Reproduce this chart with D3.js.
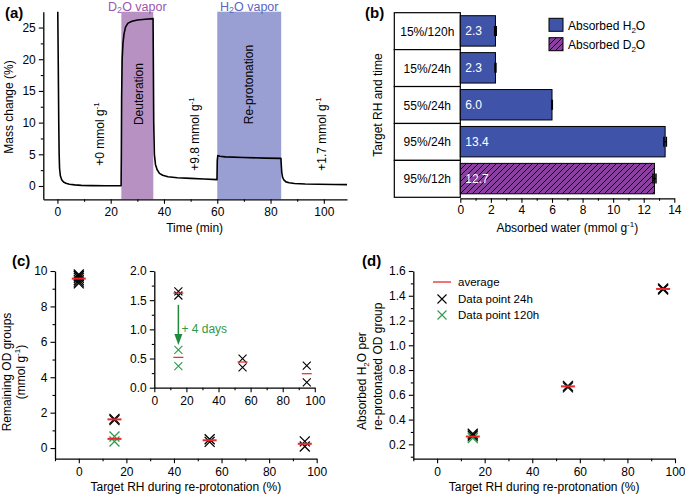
<!DOCTYPE html>
<html>
<head>
<meta charset="utf-8">
<script src="https://cdn.jsdelivr.net/npm/d3@7"></script>
<style>
  html, body { margin: 0; padding: 0; background: #fff; }
  svg { display: block; font-family: "Liberation Sans", Arial, sans-serif; }
</style>
</head>
<body>
<script>
// ---------------- DATA ----------------
// Panel (a): mass change vs time
const timeMin = [0.1, 0.3, 0.5, 0.65, 0.8, 1.1, 1.6, 2.3, 3.2, 4.5, 6.5, 9, 13, 18, 23.9,
  24.0, 24.1, 24.3, 24.6, 25.0, 25.6, 26.5, 28, 30, 33, 35.9,
  36.0, 36.15, 36.4, 36.8, 37.4, 38.3, 39.5, 41.5, 45, 50, 55, 59.9,
  60.0, 60.2, 61, 63, 70, 78, 83.9,
  84.0, 84.2, 84.5, 85, 85.8, 87, 89, 93, 98, 104, 108.7];
const massPct = [29, 20, 10, 5, 2.8, 1.6, 1.0, 0.62, 0.42, 0.28, 0.17, 0.1, 0.06, 0.04, 0.03,
  5, 14, 20, 22.5, 24, 25.1, 25.7, 26.0, 26.2, 26.3, 26.4,
  20, 10, 5, 3.4, 2.6, 2.0, 1.7, 1.45, 1.3, 1.2, 1.1, 1.0,
  4.0, 4.8, 4.7, 4.6, 4.5, 4.4, 4.35,
  3.5, 2.2, 1.4, 0.95, 0.65, 0.5, 0.4, 0.32, 0.27, 0.24, 0.22];
const d2oWindow = [24, 36];
const h2oWindow = [60, 84];
const aXTicks = [0, 20, 40, 60, 80, 100];
const aYTicks = [0, 5, 10, 15, 20, 25];

// Panel (b): absorbed water
const bCats = ["15%/120h", "15%/24h", "55%/24h", "95%/24h", "95%/12h"];
const bVals = [2.3, 2.3, 6.0, 13.4, 12.7];
const bErr = [0.05, 0.03, 0.02, 0.08, 0.1];
const bType = ["H2O", "H2O", "H2O", "H2O", "D2O"];
const bXTicks = [0, 2, 4, 6, 8, 10, 12, 14];

// Panel (c): remaining OD groups
const c24RH = [0, 0, 0, 0, 0, 0, 15, 15, 55, 55, 95, 95];
const c24Val = [9.8, 9.72, 9.62, 9.5, 9.4, 9.3, 1.65, 1.58, 0.5, 0.35, 0.38, 0.09];
const c120RH = [15, 15];
const c120Val = [0.65, 0.37];
const cAvgRH = [0, 15, 15, 55, 95];
const cAvgVal = [9.57, 1.62, 0.52, 0.44, 0.24];
const cXTicks = [0, 20, 40, 60, 80, 100];
const cYTicks = [0, 2, 4, 6, 8, 10];
const cInsetYTicks = [0, 0.5, 1.0, 1.5, 2.0];

// Panel (d): absorbed H2O per re-protonated OD group
const d24RH = [15, 15, 55, 55, 95, 95];
const d24Val = [0.285, 0.272, 0.672, 0.66, 1.458, 1.45];
const d120RH = [15, 15];
const d120Val = [0.25, 0.262];
const dAvgRH = [15, 55, 95];
const dAvgVal = [0.263, 0.668, 1.455];
const dYTicks = [0.2, 0.4, 0.6, 0.8, 1.0, 1.2, 1.4, 1.6];

// ---------------- STYLE ----------------
const C_D2O_SHADE = "#b891c3";
const C_H2O_SHADE = "#9a9fd3";
const C_D2O_TEXT = "#9a55b2";
const C_H2O_TEXT = "#5b64c6";
const C_BAR = "#3f54a8";
const C_HATCH = "#8b3fa1";
const C_RED = "#e8282a";
const C_GREEN = "#2e9a4c";
const C_ARROW = "#1f8a3c";
const FS = 12;

const svg = d3.select("body").append("svg").attr("width", 685).attr("height", 499);
svg.append("rect").attr("width", 685).attr("height", 499).attr("fill", "#fff");

const defs = svg.append("defs");
const pat = defs.append("pattern").attr("id", "hatch").attr("patternUnits", "userSpaceOnUse")
  .attr("width", 6).attr("height", 6);
pat.append("rect").attr("width", 6).attr("height", 6).attr("fill", C_HATCH);
pat.append("path").attr("d", "M-1,1 l2,-2 M0,6 l6,-6 M5,7 l2,-2").attr("stroke", "#000").attr("stroke-width", 1);

function styleAxis(g) {
  g.select(".domain").attr("stroke", "#000").attr("stroke-width", 1.3);
  g.selectAll(".tick line").attr("stroke", "#000").attr("stroke-width", 1.1);
  g.selectAll(".tick text").attr("fill", "#000").attr("font-size", FS).attr("font-family", "Liberation Sans, Arial, sans-serif");
}
function addAxis(parent, kind, scale, pos, majors, minors, fmt, pad) {
  const mk = kind === "bottom" ? d3.axisBottom : d3.axisLeft;
  const tr = kind === "bottom" ? `translate(0,${pos})` : `translate(${pos},0)`;
  const gm = parent.append("g").attr("transform", tr)
    .call(mk(scale).tickValues(minors).tickSize(2.5).tickSizeOuter(0).tickFormat(""));
  gm.select(".domain").remove();
  gm.selectAll(".tick line").attr("stroke", "#000").attr("stroke-width", 1.1);
  const g = parent.append("g").attr("transform", tr)
    .call(mk(scale).tickValues(majors).tickSize(4.5).tickSizeOuter(0).tickPadding(pad || 3).tickFormat(fmt));
  styleAxis(g);
  return g;
}
function xMark(g, x, y, s, color, w) {
  g.append("path").attr("d", `M${x - s},${y - s}L${x + s},${y + s}M${x - s},${y + s}L${x + s},${y - s}`)
    .attr("stroke", color).attr("stroke-width", w || 1.2).attr("fill", "none");
}
function rotText(parent, x, y, anchor) {
  return parent.append("text").attr("transform", `translate(${x},${y}) rotate(-90)`)
    .attr("text-anchor", anchor || "middle").attr("font-size", FS).attr("fill", "#000");
}
function supText(t, base, sup) {
  t.append("tspan").text(base);
  t.append("tspan").attr("dy", -5).attr("font-size", 8).text(sup);
  return t;
}

// ---------------- PANEL (a) ----------------
const gA = svg.append("g");
const xA = d3.scaleLinear().domain([-5.3, 108.7]).range([43.3, 347]);
const yA = d3.scaleLinear().domain([-2.1, 27.5]).range([199.3, 11.7]);
gA.append("rect").attr("x", xA(d2oWindow[0])).attr("width", xA(d2oWindow[1]) - xA(d2oWindow[0]))
  .attr("y", yA(27.5)).attr("height", yA(-2.1) - yA(27.5)).attr("fill", C_D2O_SHADE);
gA.append("rect").attr("x", xA(h2oWindow[0])).attr("width", xA(h2oWindow[1]) - xA(h2oWindow[0]))
  .attr("y", yA(27.5)).attr("height", yA(-2.1) - yA(27.5)).attr("fill", C_H2O_SHADE);
defs.append("clipPath").attr("id", "clipA").append("rect")
  .attr("x", xA(-5.3)).attr("y", yA(27.5)).attr("width", xA(108.7) - xA(-5.3)).attr("height", yA(-2.1) - yA(27.5));
const lineA = d3.line().x((d, i) => xA(timeMin[i])).y((d, i) => yA(massPct[i]));
gA.append("path").datum(massPct).attr("d", lineA).attr("clip-path", "url(#clipA)")
  .attr("fill", "none").attr("stroke", "#000").attr("stroke-width", 1.6).attr("stroke-linejoin", "round");
addAxis(gA, "bottom", xA, yA(-2.1), aXTicks, [10, 30, 50, 70, 90], d3.format("d"), 4);
addAxis(gA, "left", yA, xA(-5.3), aYTicks, [2.5, 7.5, 12.5, 17.5, 22.5], d3.format("d"), 3);
// vapor labels
{
  const t1 = gA.append("text").attr("x", xA(30)).attr("y", 11).attr("text-anchor", "middle")
    .attr("font-size", 12.5).attr("fill", C_D2O_TEXT);
  t1.append("tspan").text("D");
  t1.append("tspan").attr("font-size", 9).attr("dy", 1.5).text("2");
  t1.append("tspan").attr("dy", -1.5).text("O vapor");
  const t2 = gA.append("text").attr("x", xA(72)).attr("y", 11).attr("text-anchor", "middle")
    .attr("font-size", 12.5).attr("fill", C_H2O_TEXT);
  t2.append("tspan").text("H");
  t2.append("tspan").attr("font-size", 9).attr("dy", 1.5).text("2");
  t2.append("tspan").attr("dy", -1.5).text("O vapor");
}
supText(rotText(gA, xA(17.5), yA(8.2)), "+0 mmol g", "-1");
rotText(gA, xA(32.3), yA(14.5)).text("Deuteration");
supText(rotText(gA, xA(53.2), yA(8.2)), "+9.8 mmol g", "-1");
rotText(gA, xA(73.4), yA(16)).text("Re-protonation");
supText(rotText(gA, xA(100.7), yA(8.2)), "+1.7 mmol g", "-1");
rotText(gA, 13, 107).text("Mass change (%)");
gA.append("text").attr("x", xA(51.5)).attr("y", 232).attr("text-anchor", "middle").attr("font-size", FS).text("Time (min)");
gA.append("text").attr("x", 5).attr("y", 18).attr("font-size", 15).attr("font-weight", "bold").text("(a)");

// ---------------- PANEL (b) ----------------
const gB = svg.append("g");
const xB = d3.scaleLinear().domain([0, 14]).range([460.3, 674.3]);
const yB = d3.scaleBand().domain(bCats).range([12.7, 197.3]).paddingInner(0);
const bw = yB.bandwidth();
bCats.forEach((c, i) => {
  gB.append("rect").attr("x", 394.3).attr("y", yB(c)).attr("width", xB(0) - 394.3).attr("height", bw)
    .attr("fill", "#fff").attr("stroke", "#000").attr("stroke-width", 1.2);
  gB.append("text").attr("x", (394.3 + xB(0)) / 2).attr("y", yB(c) + bw / 2 + 4.5)
    .attr("text-anchor", "middle").attr("font-size", FS).text(c);
  const by = yB(c) + 3, bh = bw - 6.5;
  gB.append("rect").attr("x", xB(0)).attr("y", by).attr("width", xB(bVals[i]) - xB(0)).attr("height", bh)
    .attr("fill", bType[i] === "H2O" ? C_BAR : "url(#hatch)").attr("stroke", "#000").attr("stroke-width", 1);
  // error bar
  const cy = by + bh / 2;
  gB.append("path").attr("d", `M${xB(bVals[i] - bErr[i])},${cy}H${xB(bVals[i] + bErr[i])}` +
      `M${xB(bVals[i] - bErr[i])},${cy - 5}V${cy + 5}M${xB(bVals[i] + bErr[i])},${cy - 5}V${cy + 5}`)
    .attr("stroke", "#000").attr("stroke-width", 1.5).attr("fill", "none");
  gB.append("text").attr("x", xB(0) + 5).attr("y", cy + 4.5).attr("font-size", FS).attr("fill", "#fff")
    .text(d3.format(".1f")(bVals[i]));
});
addAxis(gB, "bottom", xB, 198.3, bXTicks, [1, 3, 5, 7, 9, 11, 13], d3.format("d"), 3);
rotText(gB, 382, 105).text("Target RH and time");
{
  const t = gB.append("text").attr("x", xB(7)).attr("y", 232).attr("text-anchor", "middle").attr("font-size", FS);
  t.append("tspan").text("Absorbed water (mmol g");
  t.append("tspan").attr("dy", -5).attr("font-size", 8).text("-1");
  t.append("tspan").attr("dy", 5).text(")");
}
// legend
gB.append("rect").attr("x", 549).attr("y", 18.3).attr("width", 14).attr("height", 13)
  .attr("fill", C_BAR).attr("stroke", "#000").attr("stroke-width", 1);
gB.append("rect").attr("x", 549).attr("y", 37.7).attr("width", 14).attr("height", 13)
  .attr("fill", "url(#hatch)").attr("stroke", "#000").attr("stroke-width", 1);
{
  const t = gB.append("text").attr("x", 568).attr("y", 29.5).attr("font-size", FS);
  t.append("tspan").text("Absorbed H");
  t.append("tspan").attr("dy", 3).attr("font-size", 8).text("2");
  t.append("tspan").attr("dy", -3).text("O");
  const t2 = gB.append("text").attr("x", 568).attr("y", 49).attr("font-size", FS);
  t2.append("tspan").text("Absorbed D");
  t2.append("tspan").attr("dy", 3).attr("font-size", 8).text("2");
  t2.append("tspan").attr("dy", -3).text("O");
}
gB.append("text").attr("x", 365).attr("y", 18).attr("font-size", 15).attr("font-weight", "bold").text("(b)");

// ---------------- PANEL (c) ----------------
const gC = svg.append("g");
const xC = d3.scaleLinear().domain([-10, 100]).range([55, 316.7]);
const yC = d3.scaleLinear().domain([-0.6, 10]).range([458.7, 271]);
addAxis(gC, "bottom", xC, yC(-0.6), cXTicks, [-10, 10, 30, 50, 70, 90], d3.format("d"), 4);
addAxis(gC, "left", yC, xC(-10), cYTicks, [1, 3, 5, 7, 9], d3.format("d"), 3);
c24RH.forEach((r, i) => xMark(gC, xC(r), yC(c24Val[i]), 5, "#000", 1.3));
c120RH.forEach((r, i) => xMark(gC, xC(r), yC(c120Val[i]), 5, C_GREEN, 1.3));
cAvgRH.forEach((r, i) => gC.append("line").attr("x1", xC(r) - 7).attr("x2", xC(r) + 7)
  .attr("y1", yC(cAvgVal[i])).attr("y2", yC(cAvgVal[i])).attr("stroke", C_RED).attr("stroke-width", 2));
// inset
const xI = d3.scaleLinear().domain([0, 100]).range([154.3, 314.8]);
const yI = d3.scaleLinear().domain([0, 2]).range([387.7, 271]);
addAxis(gC, "bottom", xI, yI(0), cXTicks, [10, 30, 50, 70, 90], d3.format("d"), 4.5);
addAxis(gC, "left", yI, xI(0), cInsetYTicks, [0.25, 0.75, 1.25, 1.75], d3.format(".1f"), 3);
c24RH.forEach((r, i) => { if (c24Val[i] <= 2) xMark(gC, xI(r), yI(c24Val[i]), 4, "#000", 1.1); });
c120RH.forEach((r, i) => xMark(gC, xI(r), yI(c120Val[i]), 4, C_GREEN, 1.1));
cAvgRH.forEach((r, i) => { if (cAvgVal[i] <= 2) gC.append("line").attr("x1", xI(r) - 5).attr("x2", xI(r) + 5)
  .attr("y1", yI(cAvgVal[i])).attr("y2", yI(cAvgVal[i])).attr("stroke", C_RED).attr("stroke-width", 1.2); });
// arrow
gC.append("line").attr("x1", xI(15)).attr("x2", xI(15)).attr("y1", yI(1.42)).attr("y2", yI(0.9))
  .attr("stroke", C_ARROW).attr("stroke-width", 1.5);
gC.append("path").attr("d", `M${xI(15) - 4},${yI(0.92)}L${xI(15) + 4},${yI(0.92)}L${xI(15)},${yI(0.73)}Z`)
  .attr("fill", C_ARROW);
gC.append("text").attr("x", xI(15) + 3).attr("y", yI(1.0) + 4).attr("font-size", FS).attr("fill", C_GREEN).text("+ 4 days");
rotText(gC, 11, 372).text("Remaining OD groups");
supText(rotText(gC, 25, 372), "(mmol g", "-1").append("tspan").attr("dy", 5).text(")");
gC.append("text").attr("x", xC(45)).attr("y", 491).attr("text-anchor", "middle").attr("font-size", FS)
  .text("Target RH during re-protonation (%)");
gC.append("text").attr("x", 12).attr("y", 266).attr("font-size", 15).attr("font-weight", "bold").text("(c)");

// ---------------- PANEL (d) ----------------
const gD = svg.append("g");
const xD = d3.scaleLinear().domain([-10, 100]).range([413.3, 675]);
const yD = d3.scaleLinear().domain([0.084, 1.6]).range([458.7, 271]);
addAxis(gD, "bottom", xD, yD(0.084), cXTicks, [-10, 10, 30, 50, 70, 90], d3.format("d"), 4);
addAxis(gD, "left", yD, xD(-10), dYTicks, [0.1, 0.3, 0.5, 0.7, 0.9, 1.1, 1.3, 1.5], d3.format(".1f"), 3);
d120RH.forEach((r, i) => xMark(gD, xD(r), yD(d120Val[i]), 5, C_GREEN, 1.3));
d24RH.forEach((r, i) => xMark(gD, xD(r), yD(d24Val[i]), 5, "#000", 1.3));
dAvgRH.forEach((r, i) => gD.append("line").attr("x1", xD(r) - 7).attr("x2", xD(r) + 7)
  .attr("y1", yD(dAvgVal[i])).attr("y2", yD(dAvgVal[i])).attr("stroke", C_RED).attr("stroke-width", 2));
// legend
gD.append("line").attr("x1", 433).attr("x2", 451).attr("y1", 282).attr("y2", 282).attr("stroke", C_RED).attr("stroke-width", 1.3);
xMark(gD, 442, 299, 4.5, "#000", 1.1);
xMark(gD, 442, 315, 4.5, C_GREEN, 1.1);
gD.append("text").attr("x", 458).attr("y", 286).attr("font-size", 11.5).text("average");
gD.append("text").attr("x", 458).attr("y", 303).attr("font-size", 11.5).text("Data point 24h");
gD.append("text").attr("x", 458).attr("y", 319).attr("font-size", 11.5).text("Data point 120h");
{
  const t = rotText(gD, 366, 430, "start");
  t.append("tspan").text("Absorbed H");
  t.append("tspan").attr("dy", 3).attr("font-size", 8).text("2");
  t.append("tspan").attr("dy", -3).text("O per");
  rotText(gD, 382, 430, "start").text("re-protonated OD group");
}
gD.append("text").attr("x", xD(45)).attr("y", 491).attr("text-anchor", "middle").attr("font-size", FS)
  .text("Target RH during re-protonation (%)");
gD.append("text").attr("x", 362).attr("y", 266).attr("font-size", 15).attr("font-weight", "bold").text("(d)");
</script>
</body>
</html>
